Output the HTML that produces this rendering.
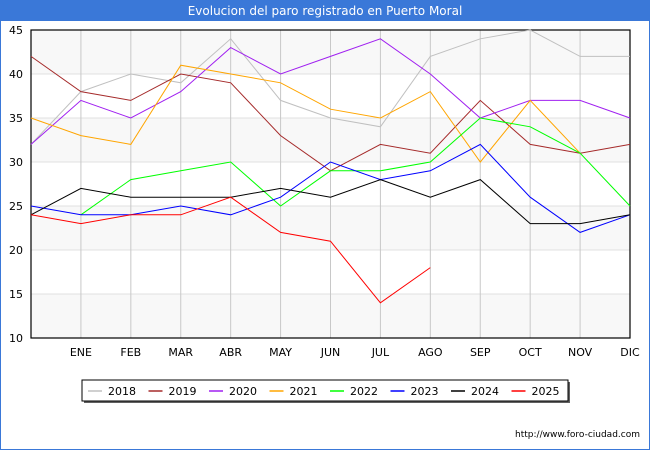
<!DOCTYPE html>
<html><head><meta charset="utf-8"><style>
body{margin:0;width:650px;height:450px;overflow:hidden;font-family:"Liberation Sans","DejaVu Sans",sans-serif;}
</style></head><body>
<svg width="650" height="450" xmlns="http://www.w3.org/2000/svg" font-family="DejaVu Sans, Liberation Sans, sans-serif">
<rect x="0" y="0" width="650" height="450" fill="#ffffff" stroke="#3a78d8" stroke-width="2"/>
<rect x="0" y="0" width="650" height="21" fill="#3a78d8"/>
<text x="325" y="15" text-anchor="middle" fill="#fff" font-size="12">Evolucion del paro registrado en Puerto Moral</text>
<g id="plot"></g>
<text x="640" y="437" text-anchor="end" font-size="9" fill="#000">http://www.foro-ciudad.com</text>
</svg>
<script>
const months=["","ENE","FEB","MAR","ABR","MAY","JUN","JUL","AGO","SEP","OCT","NOV","DIC"];
const yTicks=[10,15,20,25,30,35,40,45];
const years=["2018","2019","2020","2021","2022","2023","2024","2025"];
const colors=["#c0c0c0","#a52a2a","#a020f0","#ffa500","#00ff00","#0000ff","#000000","#ff0000"];
const s2018=[32,38,40,39,44,37,35,34,42,44,45,42,42];
const s2019=[42,38,37,40,39,33,29,32,31,37,32,31,32];
const s2020=[32,37,35,38,43,40,42,44,40,35,37,37,35];
const s2021=[35,33,32,41,40,39,36,35,38,30,37,31,null];
const s2022=[null,24,28,29,30,25,29,29,30,35,34,31,25];
const s2023=[25,24,24,25,24,26,30,28,29,32,26,22,24];
const s2024=[24,27,26,26,26,27,26,28,26,28,23,23,24];
const s2025=[24,23,24,24,26,22,21,14,18,null,null,null,null];
const series=[s2018,s2019,s2020,s2021,s2022,s2023,s2024,s2025];
const X0=31,X1=630,Y0=338,Y1=30,YMIN=10,YMAX=45;
const xs=i=>X0+(X1-X0)*i/(months.length-1);
const ys=v=>Y0-(Y0-Y1)*(v-YMIN)/(YMAX-YMIN);
const NS="http://www.w3.org/2000/svg";
const g=document.getElementById("plot");
function mk(t,a){const e=document.createElementNS(NS,t);for(const k in a)e.setAttribute(k,a[k]);g.appendChild(e);return e;}
for(let i=0;i<yTicks.length-1;i++){
 const b=mk("rect",{x:X0,y:ys(yTicks[i+1]),width:X1-X0,height:ys(yTicks[i])-ys(yTicks[i+1]),fill:(i%2===0)?"#f8f8f8":"#ffffff"});
 
 
}
yTicks.forEach(v=>{
 const l=mk("line",{x1:X0,x2:X1,y1:ys(v),y2:ys(v),stroke:"#e0e0e0","stroke-width":1});
 
 
 const t=mk("text",{x:X0-8,y:ys(v)+4,"text-anchor":"end","font-size":11,fill:"#000"});
 t.textContent=v;
 
 
});
months.forEach((m,i)=>{
 if(i===0)return;
 const l=mk("line",{x1:xs(i),x2:xs(i),y1:Y1,y2:Y0,stroke:"#c8c8c8","stroke-width":1});
 
 
 const t=mk("text",{x:xs(i),y:Y0+18,"text-anchor":"middle","font-size":11,fill:"#000"});
 t.textContent=m;
 
 
});
const ax=mk("rect",{x:X0,y:Y1,width:X1-X0,height:Y0-Y1,fill:"none",stroke:"#000","stroke-width":1.2});


series.forEach((s,k)=>{
 let d="",pen=false;
 s.forEach((v,i)=>{if(v==null){pen=false;return;}d+=(pen?"L":"M")+xs(i).toFixed(1)+" "+ys(v).toFixed(1);pen=true;});
 const p=mk("path",{d:d,fill:"none",stroke:colors[k],"stroke-width":1});
 
 
});
const lb=mk("rect",{x:84,y:382,width:486,height:21,fill:"#606060"});


const lg=mk("rect",{x:82,y:380,width:486,height:21,fill:"#fff",stroke:"#000","stroke-width":1});


years.forEach((y,k)=>{
 const x=88+k*60.5;
 const l=mk("line",{x1:x,x2:x+14,y1:391,y2:391,stroke:colors[k],"stroke-width":1.5});
 
 
 const t=mk("text",{x:x+20,y:395,"font-size":11,fill:"#000"});
 t.textContent=y;
 
 
});
</script>
</body></html>
